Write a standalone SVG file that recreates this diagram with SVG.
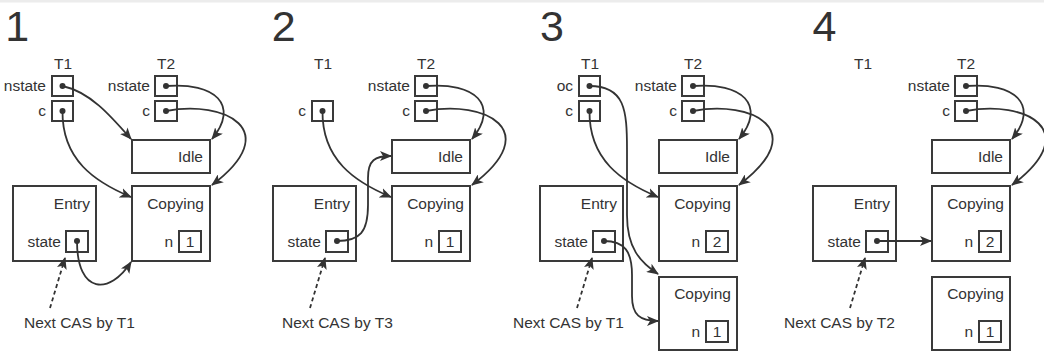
<svg xmlns="http://www.w3.org/2000/svg" width="1044" height="352" viewBox="0 0 1044 352">
<style>
text{font-family:"Liberation Sans",Arial,sans-serif;fill:#333;font-size:15.5px}
.num{font-size:43px}
.r{text-anchor:end}
.m{text-anchor:middle}
.box{fill:#fff;stroke:#3a3a3a;stroke-width:2}
.dot{fill:#333}
.c{fill:none;stroke:#333;stroke-width:1.8;marker-end:url(#ah)}
.d{fill:none;stroke:#333;stroke-width:1.8;stroke-dasharray:4 3;marker-end:url(#ah)}
</style>
<defs>
<marker id="ah" viewBox="0 0 12 10" refX="11" refY="5" markerWidth="12" markerHeight="10" markerUnits="userSpaceOnUse" orient="auto">
<path d="M0,0 L12,5 L0,10 L3,5 z" fill="#333"/>
</marker>
</defs>
<rect x="0" y="0" width="1044" height="352" fill="#fff"/>
<rect x="0" y="0" width="1044" height="2.5" fill="#ececec"/>

<!-- Panel 1 -->
<g id="panel1">
<text class="num" x="5.3" y="41">1</text>
<g id="p1-t1"><text class="m" x="63" y="69">T1</text>
<text class="r" x="46" y="91">nstate</text><rect class="box" x="52" y="76" width="21" height="20"/><circle class="dot" cx="62.5" cy="86" r="3"/>
<text class="r" x="46" y="116">c</text><rect class="box" x="52" y="101" width="21" height="20"/><circle class="dot" cx="62.5" cy="111" r="3"/></g>
<g id="p1-t2"><text class="m" x="166" y="69">T2</text>
<text class="r" x="150" y="91">nstate</text><rect class="box" x="155" y="76" width="22" height="20"/><circle class="dot" cx="166" cy="86" r="3"/>
<text class="r" x="150" y="116">c</text><rect class="box" x="155" y="101" width="22" height="20"/><circle class="dot" cx="166" cy="111" r="3"/></g>
<g id="p1-idle"><rect class="box" x="132" y="140" width="78" height="33"/><text class="r" x="203" y="162">Idle</text></g>
<g id="p1-copying"><rect class="box" x="132" y="186" width="78" height="75"/><text class="r" x="204" y="209">Copying</text>
<text class="r" x="173" y="247">n</text><rect class="box" x="179" y="231" width="22" height="21"/><text class="m" x="190" y="247">1</text></g>
<g id="p1-entry"><rect class="box" x="13" y="186" width="83" height="75"/><text class="r" x="90" y="209">Entry</text>
<text class="r" x="61" y="247">state</text><rect class="box" x="66" y="231" width="22" height="21"/><circle class="dot" cx="77" cy="241" r="3"/></g>
<g id="p1-note"><text x="24" y="328">Next CAS by T1</text></g>
<g id="p1-connectors">
<path class="c" d="M62.5,86 C90,92 110,115 131,139"/>
<path class="c" d="M62.5,111 C62,160 95,182 131,197"/>
<path class="c" d="M166,86 C215,82 240,105 212,139"/>
<path class="c" d="M166,111 C225,100 285,130 212,185"/>
<path class="c" d="M77,241 C77,295 110,295 131,262"/>
<path class="d" d="M50,308 L65,258"/>
</g>
</g>

<!-- Panel 2 -->
<g id="panel2">
<text class="num" x="271.7" y="41">2</text>
<g transform="translate(260,0)">
<g id="p2-t1"><text class="m" x="63" y="69">T1</text>
<text class="r" x="46" y="116">c</text><rect class="box" x="52" y="101" width="21" height="20"/><circle class="dot" cx="62.5" cy="111" r="3"/></g>
<g id="p2-t2"><text class="m" x="166" y="69">T2</text>
<text class="r" x="150" y="91">nstate</text><rect class="box" x="155" y="76" width="22" height="20"/><circle class="dot" cx="166" cy="86" r="3"/>
<text class="r" x="150" y="116">c</text><rect class="box" x="155" y="101" width="22" height="20"/><circle class="dot" cx="166" cy="111" r="3"/></g>
<g id="p2-idle"><rect class="box" x="132" y="140" width="78" height="33"/><text class="r" x="203" y="162">Idle</text></g>
<g id="p2-copying"><rect class="box" x="132" y="186" width="78" height="75"/><text class="r" x="204" y="209">Copying</text>
<text class="r" x="173" y="247">n</text><rect class="box" x="179" y="231" width="22" height="21"/><text class="m" x="190" y="247">1</text></g>
<g id="p2-entry"><rect class="box" x="13" y="186" width="83" height="75"/><text class="r" x="90" y="209">Entry</text>
<text class="r" x="61" y="247">state</text><rect class="box" x="66" y="231" width="22" height="21"/><circle class="dot" cx="77" cy="241" r="3"/></g>
<g id="p2-note"><text x="22" y="328">Next CAS by T3</text></g>
<g id="p2-connectors">
<path class="c" d="M62.5,111 C62,160 95,182 131,197"/>
<path class="c" d="M77,241 C100,241 108,232 108,205 L108,178 C108,160 115,156 131,156"/>
<path class="c" d="M166,86 C215,82 240,105 212,139"/>
<path class="c" d="M166,111 C225,100 285,130 212,185"/>
<path class="d" d="M50,308 L65,258"/>
</g>
</g>
</g>

<!-- Panel 3 -->
<g id="panel3">
<text class="num" x="540" y="41">3</text>
<g transform="translate(527,0)">
<g id="p3-t1"><text class="m" x="63" y="69">T1</text>
<text class="r" x="46" y="91">oc</text><rect class="box" x="52" y="76" width="21" height="20"/><circle class="dot" cx="62.5" cy="86" r="3"/>
<text class="r" x="46" y="116">c</text><rect class="box" x="52" y="101" width="21" height="20"/><circle class="dot" cx="62.5" cy="111" r="3"/></g>
<g id="p3-t2"><text class="m" x="166" y="69">T2</text>
<text class="r" x="150" y="91">nstate</text><rect class="box" x="155" y="76" width="22" height="20"/><circle class="dot" cx="166" cy="86" r="3"/>
<text class="r" x="150" y="116">c</text><rect class="box" x="155" y="101" width="22" height="20"/><circle class="dot" cx="166" cy="111" r="3"/></g>
<g id="p3-idle"><rect class="box" x="132" y="140" width="78" height="33"/><text class="r" x="203" y="162">Idle</text></g>
<g id="p3-copying2"><rect class="box" x="132" y="186" width="78" height="75"/><text class="r" x="204" y="209">Copying</text>
<text class="r" x="173" y="247">n</text><rect class="box" x="179" y="231" width="22" height="21"/><text class="m" x="190" y="247">2</text></g>
<g id="p3-copying1"><rect class="box" x="132" y="277" width="78" height="73"/><text class="r" x="204" y="299">Copying</text>
<text class="r" x="173" y="337">n</text><rect class="box" x="179" y="321" width="22" height="21"/><text class="m" x="190" y="337">1</text></g>
<g id="p3-entry"><rect class="box" x="13" y="186" width="83" height="75"/><text class="r" x="90" y="209">Entry</text>
<text class="r" x="61" y="247">state</text><rect class="box" x="66" y="231" width="22" height="21"/><circle class="dot" cx="77" cy="241" r="3"/></g>
<g id="p3-note"><text x="-14" y="328">Next CAS by T1</text></g>
<g id="p3-connectors">
<path class="c" d="M62.5,86 C98,86 100,110 100,150 L100,215 C100,248 113,262 131,274"/>
<path class="c" d="M62.5,111 C62,160 95,182 131,197"/>
<path class="c" d="M77,241 C98,241 105,252 105,275 L105,296 C105,315 113,321 131,321"/>
<path class="c" d="M166,86 C215,82 240,105 212,139"/>
<path class="c" d="M166,111 C225,100 285,130 212,185"/>
<path class="d" d="M50,308 L65,258"/>
</g>
</g>
</g>

<!-- Panel 4 -->
<g id="panel4">
<text class="num" x="812.5" y="41">4</text>
<g transform="translate(800,0)">
<g id="p4-t1"><text class="m" x="63" y="69">T1</text></g>
<g id="p4-t2"><text class="m" x="166" y="69">T2</text>
<text class="r" x="150" y="91">nstate</text><rect class="box" x="155" y="76" width="22" height="20"/><circle class="dot" cx="166" cy="86" r="3"/>
<text class="r" x="150" y="116">c</text><rect class="box" x="155" y="101" width="22" height="20"/><circle class="dot" cx="166" cy="111" r="3"/></g>
<g id="p4-idle"><rect class="box" x="132" y="140" width="78" height="33"/><text class="r" x="203" y="162">Idle</text></g>
<g id="p4-copying2"><rect class="box" x="132" y="186" width="78" height="75"/><text class="r" x="204" y="209">Copying</text>
<text class="r" x="173" y="247">n</text><rect class="box" x="179" y="231" width="22" height="21"/><text class="m" x="190" y="247">2</text></g>
<g id="p4-copying1"><rect class="box" x="132" y="277" width="78" height="73"/><text class="r" x="204" y="299">Copying</text>
<text class="r" x="173" y="337">n</text><rect class="box" x="179" y="321" width="22" height="21"/><text class="m" x="190" y="337">1</text></g>
<g id="p4-entry"><rect class="box" x="13" y="186" width="83" height="75"/><text class="r" x="90" y="209">Entry</text>
<text class="r" x="61" y="247">state</text><rect class="box" x="66" y="231" width="22" height="21"/><circle class="dot" cx="77" cy="241" r="3"/></g>
<g id="p4-note"><text x="-16" y="328">Next CAS by T2</text></g>
<g id="p4-connectors">
<path class="c" d="M77,241 L131,241"/>
<path class="c" d="M166,86 C215,82 240,105 212,139"/>
<path class="c" d="M166,111 C225,100 285,130 212,185"/>
<path class="d" d="M50,308 L65,258"/>
</g>
</g>
</g>
</svg>
